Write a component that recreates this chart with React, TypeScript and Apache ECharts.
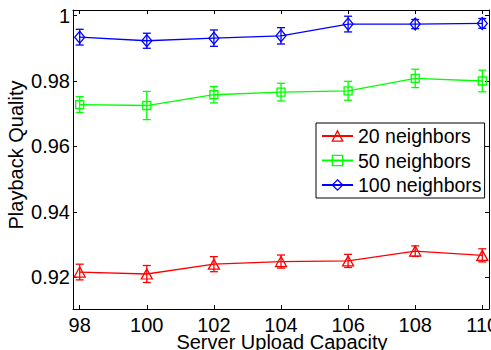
import React, { useEffect, useRef } from "react";
import * as echarts from "echarts";

const capacities = [98, 100, 102, 104, 106, 108, 110];
const quality20 = [0.9216, 0.921, 0.924, 0.9248, 0.925, 0.928, 0.9267];
const error20 = [0.0024, 0.0026, 0.0023, 0.002, 0.002, 0.0016, 0.002];
const quality50 = [0.9728, 0.9725, 0.9758, 0.9766, 0.977, 0.9808, 0.98];
const error50 = [0.0024, 0.0043, 0.0025, 0.0027, 0.0029, 0.0028, 0.0033];
const quality100 = [0.9934, 0.9923, 0.9931, 0.9938, 0.9974, 0.9974, 0.9976];
const error100 = [0.0024, 0.0023, 0.0025, 0.0025, 0.0024, 0.0014, 0.0015];
const xTicks = [98, 100, 102, 104, 106, 108, 110];
const yTicks = [0.92, 0.94, 0.96, 0.98, 1];
const seriesNames = ["20 neighbors", "50 neighbors", "100 neighbors"];

const FONT = "'Liberation Sans', Arial, Helvetica, sans-serif";

export default function App() {
  const ref = useRef<HTMLDivElement>(null);
  useEffect(() => {
    if (!ref.current) return;
    const chart = echarts.init(ref.current, undefined, { renderer: "svg" });

    const groups = [
      { name: seriesNames[0], q: quality20, e: error20, color: "#ff0000", symbol: "triangle", size: [11, 10] },
      { name: seriesNames[1], q: quality50, e: error50, color: "#00ff00", symbol: "rect", size: 8 },
      { name: seriesNames[2], q: quality100, e: error100, color: "#0000ff", symbol: "diamond", size: [10, 12] },
    ];

    const series: any[] = [];
    groups.forEach((g, gi) => {
      series.push({
        name: g.name,
        type: "line",
        data: capacities.map((c, i) => [c, g.q[i]]),
        symbol: g.symbol,
        symbolSize: g.size,
        showAllSymbol: true,
        lineStyle: { color: g.color, width: 1.3 },
        itemStyle: { color: "rgba(0,0,0,0)", borderColor: g.color, borderWidth: 1.3 },
        z: 3,
      });
      series.push({
        name: "err" + gi,
        type: "custom",
        data: capacities.map((c, i) => [c, g.q[i], g.e[i]]),
        encode: { x: 0, y: 1 },
        z: 4,
        renderItem: (params: any, api: any) => {
          const x = api.value(0);
          const y = api.value(1);
          const e = api.value(2);
          const top = api.coord([x, y + e]);
          const bot = api.coord([x, y - e]);
          const cap = 4;
          const style = { stroke: g.color, lineWidth: 1.3 };
          return {
            type: "group",
            children: [
              { type: "line", shape: { x1: top[0], y1: top[1], x2: bot[0], y2: bot[1] }, style },
              { type: "line", shape: { x1: top[0] - cap, y1: top[1], x2: top[0] + cap, y2: top[1] }, style },
              { type: "line", shape: { x1: bot[0] - cap, y1: bot[1], x2: bot[0] + cap, y2: bot[1] }, style },
            ],
          };
        },
      });
    });

    const axisLine = { show: true, lineStyle: { color: "#000", width: 1 } };
    const tick = { show: true, inside: true, length: 4, lineStyle: { color: "#000", width: 1 } };

    chart.setOption({
      animation: false,
      backgroundColor: "#fff",
      grid: { left: 73, right: 2, top: 10, bottom: 41, containLabel: false, outerBoundsMode: "none" },
      xAxis: [
        {
          type: "value",
          min: 97.8,
          max: 110.2,
          axisLine,
          axisTick: { ...tick, customValues: xTicks },
          axisLabel: { customValues: xTicks, fontSize: 20, fontFamily: FONT, color: "#000", margin: 6 },
          splitLine: { show: false },
        },
        {
          type: "value",
          position: "top",
          min: 97.8,
          max: 110.2,
          axisLine,
          axisTick: { ...tick, customValues: xTicks },
          axisLabel: { show: false },
          splitLine: { show: false },
        },
      ],
      yAxis: [
        {
          type: "value",
          min: 0.9103,
          max: 1.0017,
          axisLine,
          axisTick: { ...tick, customValues: yTicks },
          axisLabel: {
            customValues: yTicks,
            fontSize: 20,
            fontFamily: FONT,
            color: "#000",
            margin: 3,
            formatter: (v: number) => (v === 1 ? "1" : String(Math.round(v * 100) / 100)),
          },
          splitLine: { show: false },
        },
        {
          type: "value",
          position: "right",
          min: 0.9103,
          max: 1.0017,
          axisLine,
          axisTick: { ...tick, customValues: yTicks },
          axisLabel: { show: false },
          splitLine: { show: false },
        },
      ],
      legend: {
        data: seriesNames,
        orient: "vertical",
        left: 316,
        top: 123,
        itemWidth: 31,
        itemHeight: 13,
        itemGap: 4.5,
        padding: [3, 3, 3, 5],
        borderColor: "#000",
        borderWidth: 1,
        backgroundColor: "#fff",
        selectedMode: false,
        itemStyle: { color: "rgba(0,0,0,0)", borderWidth: 1.3 },
        textStyle: { fontSize: 19.5, fontFamily: FONT, color: "#000" },
      },
      graphic: [
        {
          type: "text",
          x: 16,
          y: 155,
          rotation: Math.PI / 2,
          style: {
            text: "Playback Quality",
            fontSize: 20,
            fontFamily: FONT,
            fill: "#000",
            align: "center",
            verticalAlign: "middle",
          },
        },
        {
          type: "text",
          x: 282,
          y: 342,
          style: {
            text: "Server Upload Capacity",
            fontSize: 20,
            fontFamily: FONT,
            fill: "#000",
            align: "center",
            verticalAlign: "middle",
          },
        },
      ],
      series,
    });
    return () => chart.dispose();
  }, []);
  return <div ref={ref} style={{ position: "fixed", left: 0, top: 0, width: 491, height: 350 }} />;
}
